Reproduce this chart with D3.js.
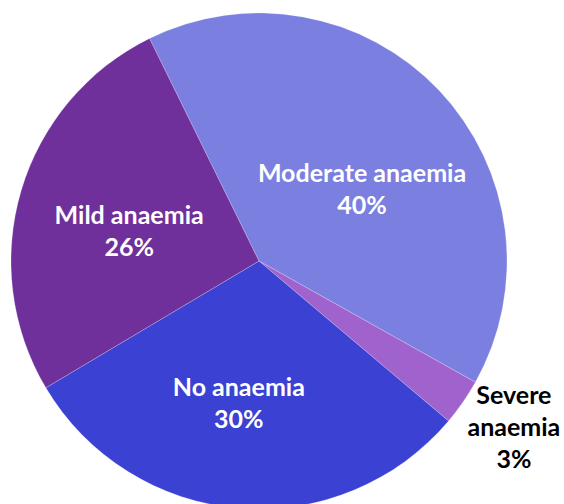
<!DOCTYPE html>
<html lang="en">
<head>
<meta charset="UTF-8">
<title>Anaemia</title>
<style>
  body { margin: 0; background: #fff; }
  text { font-family: Lato, "Open Sans", sans-serif; font-weight: 700; }
</style>
</head>
<body>
<svg id="chart" width="564" height="504"></svg>
<script src="https://cdn.jsdelivr.net/npm/d3@7"></script>
<script>
// data, in drawing order (clockwise from the Mild/Moderate boundary)
var categories = ["Moderate anaemia", "Severe anaemia", "No anaemia", "Mild anaemia"];
var labelLines = [["Moderate anaemia"], ["Severe", "anaemia"], ["No anaemia"], ["Mild anaemia"]];
var percents = [40, 3, 30, 26];
var colors = ["#7a7fe0", "#a062cd", "#3b41d2", "#70309c"];

var cx = 259, cy = 261, r = 248;
var startDeg = -26.2;
// label nudges, pixels from the label arc centroid
var nudges = [[13, 13], [-2, -12], [-10, 18], [-11, 5]];

var svg = d3.select("#chart");
var g = svg.append("g").attr("transform", "translate(" + cx + "," + cy + ")");

var pie = d3.pie().sort(null)
    .startAngle(startDeg * Math.PI / 180)
    .endAngle((startDeg + 360) * Math.PI / 180);
var arcs = pie(percents);

var arc = d3.arc().innerRadius(0).outerRadius(r);
var labelArc = d3.arc().innerRadius(r * 0.5).outerRadius(r * 0.5);
var outArc = d3.arc().innerRadius(r * 1.26).outerRadius(r * 1.26);

g.selectAll("path.slice").data(arcs).enter().append("path")
    .attr("class", "slice")
    .attr("d", arc)
    .attr("fill", function(d, i) { return colors[i]; })
    .attr("stroke", "#ffffff")
    .attr("stroke-opacity", 0.35)
    .attr("stroke-width", 0.6);

var fs = 25, lh = 32, capHalf = 9;
arcs.forEach(function(d, i) {
    var outside = percents[i] < 5;
    var c = outside ? outArc.centroid(d) : labelArc.centroid(d);
    var x = c[0] + nudges[i][0], y = c[1] + nudges[i][1];
    var lines = labelLines[i].concat([percents[i] + "%"]);
    var t = g.append("text")
        .attr("text-anchor", "middle")
        .attr("font-size", fs)
        .attr("fill", outside ? "#000000" : "#ffffff");
    var top = y - (lines.length - 1) * lh / 2 + capHalf;
    lines.forEach(function(s, k) {
        t.append("tspan").attr("x", x).attr("y", top + k * lh).text(s);
    });
});
</script>
</body>
</html>
